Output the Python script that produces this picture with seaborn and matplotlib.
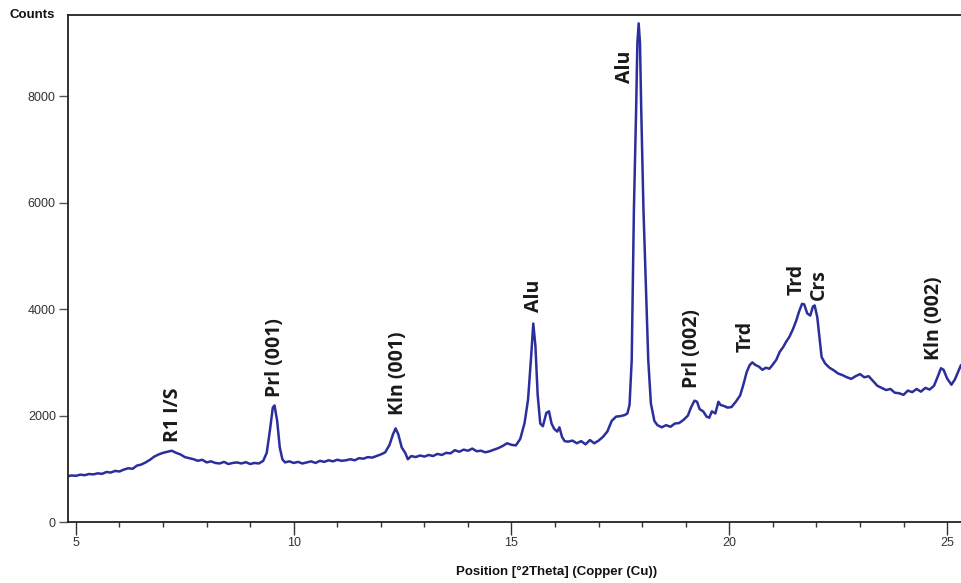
import numpy as np
import pandas as pd
import matplotlib.pyplot as plt
import seaborn as sns

# XRD pattern
two_theta = [
    4.81, 4.9, 5.0, 5.1, 5.2, 5.3, 5.4, 5.5, 5.6, 5.7, 5.8, 5.9, 6.0, 6.1, 6.2, 6.3,
    6.4, 6.5, 6.6, 6.7, 6.8, 6.9, 7.0, 7.1, 7.2, 7.3, 7.4, 7.5, 7.6, 7.7, 7.8, 7.9,
    8.0, 8.1, 8.2, 8.3, 8.4, 8.5, 8.6, 8.7, 8.8, 8.9, 9.0, 9.1, 9.2, 9.3, 9.38, 9.45,
    9.52, 9.56, 9.62, 9.68, 9.74, 9.8, 9.9, 10.0, 10.1, 10.2, 10.3, 10.4, 10.5, 10.6,
    10.7, 10.8, 10.9, 11.0, 11.1, 11.2, 11.3, 11.4, 11.5, 11.6, 11.7, 11.8, 11.9, 12.0,
    12.1, 12.2, 12.28, 12.34, 12.4, 12.48, 12.56, 12.62, 12.7, 12.8, 12.9, 13.0, 13.1,
    13.2, 13.3, 13.4, 13.5, 13.6, 13.7, 13.8, 13.9, 14.0, 14.1, 14.2, 14.3, 14.4, 14.5,
    14.6, 14.7, 14.8, 14.9, 15.0, 15.1, 15.2, 15.3, 15.38, 15.45, 15.5, 15.55, 15.6,
    15.66, 15.72, 15.8, 15.86, 15.92, 15.98, 16.05, 16.1, 16.16, 16.22, 16.3, 16.4,
    16.5, 16.6, 16.7, 16.8, 16.9, 17.0, 17.1, 17.2, 17.3, 17.4, 17.5, 17.6, 17.66,
    17.71, 17.76, 17.81, 17.86, 17.89, 17.92, 17.95, 17.98, 18.03, 18.14, 18.2, 18.28,
    18.35, 18.45, 18.55, 18.65, 18.75, 18.85, 18.95, 19.05, 19.12, 19.2, 19.26, 19.32,
    19.4, 19.48, 19.54, 19.6, 19.68, 19.75, 19.8, 19.88, 19.96, 20.05, 20.15, 20.25,
    20.33, 20.4, 20.47, 20.53, 20.6, 20.68, 20.76, 20.84, 20.92, 21.0, 21.08, 21.16,
    21.24, 21.3, 21.38, 21.46, 21.54, 21.6, 21.67, 21.72, 21.79, 21.86, 21.92, 21.96,
    22.02, 22.08, 22.12, 22.2, 22.3, 22.4, 22.5, 22.6, 22.7, 22.8, 22.9, 23.0, 23.1,
    23.2, 23.3, 23.4, 23.5, 23.6, 23.7, 23.8, 23.9, 24.0, 24.1, 24.2, 24.3, 24.4, 24.5,
    24.6, 24.7, 24.78, 24.86, 24.92, 25.0, 25.1, 25.18, 25.32,
]
counts = [
    860, 875, 868, 890, 880, 902, 895, 915, 905, 940, 930, 960, 950, 985, 1010, 1000,
    1060, 1080, 1120, 1170, 1230, 1270, 1300, 1320, 1340, 1300, 1270, 1220, 1200, 1180, 1150, 1170,
    1120, 1140, 1110, 1100, 1130, 1090, 1110, 1120, 1100, 1125, 1090, 1110, 1100, 1150, 1300, 1700,
    2150, 2190, 1900, 1400, 1180, 1120, 1140, 1110, 1130, 1100, 1120, 1140, 1110, 1150,
    1130, 1160, 1140, 1170, 1150, 1160, 1180, 1160, 1200, 1190, 1220, 1210, 1240, 1270,
    1310, 1450, 1650, 1760, 1650, 1400, 1300, 1180, 1240, 1220, 1250, 1230, 1260,
    1240, 1280, 1260, 1300, 1290, 1350, 1320, 1360, 1340, 1380, 1330, 1340, 1310, 1330,
    1360, 1390, 1430, 1480, 1450, 1440, 1560, 1860, 2300, 3100, 3730, 3300, 2400,
    1850, 1800, 2050, 2080, 1850, 1750, 1700, 1780, 1600, 1520, 1510, 1530,
    1480, 1520, 1460, 1540, 1480, 1530, 1600, 1700, 1900, 1980, 1990, 2010, 2040,
    2200, 3040, 5860, 7700, 9000, 9370, 9000, 7700, 5860, 3040, 2230, 1900,
    1820, 1780, 1820, 1790, 1850, 1860, 1920, 2000, 2150, 2280, 2260, 2120,
    2080, 1980, 1960, 2080, 2040, 2260, 2200, 2180, 2150, 2160, 2260, 2380,
    2600, 2820, 2950, 3000, 2950, 2920, 2860, 2900, 2880, 2960, 3050, 3200,
    3290, 3380, 3480, 3620, 3790, 3950, 4100, 4090, 3920, 3880, 4050, 4070,
    3850, 3400, 3100, 2980, 2900, 2850, 2790, 2760, 2720, 2690, 2740, 2780, 2720,
    2740, 2650, 2560, 2520, 2480, 2500, 2430, 2420, 2390, 2470, 2440, 2500, 2450, 2520,
    2490, 2560, 2720, 2890, 2860, 2700, 2580, 2680, 2950,
]

# phase labels: text, x position, bottom of the label (counts)
label_text = ["R1 I/S", "Prl (001)", "Kln (001)", "Alu", "Alu", "Prl (002)", "Trd", "Trd", "Crs", "Kln (002)"]
label_x = [7.22, 9.58, 12.39, 15.52, 17.60, 19.15, 20.37, 21.54, 22.06, 24.70]
label_y = [1500, 2345, 2007, 3940, 8245, 2514, 3190, 4260, 4170, 3040]

df = pd.DataFrame({"two_theta": two_theta, "counts": counts})

sns.set_style("ticks")
plt.rcParams["font.family"] = ["Liberation Sans", "DejaVu Sans"]

fig = plt.figure(figsize=(9.61, 5.83), dpi=100)
ax = fig.add_axes([0.0704, 0.1046, 0.9296, 0.8697])

sns.lineplot(data=df, x="two_theta", y="counts", ax=ax, color="#2b2f9c",
             linewidth=1.8, estimator=None, sort=False)

ax.set_xlim(4.81, 25.32)
ax.set_ylim(0, 9528)
ax.set_xticks([5, 10, 15, 20, 25])
ax.set_xticks(np.arange(5, 26, 1), minor=True)
ax.set_yticks([0, 2000, 4000, 6000, 8000])
ax.tick_params(axis="x", which="major", length=9, width=1, color="#333333",
               labelsize=9, labelcolor="#333333", pad=2)
ax.tick_params(axis="x", which="minor", length=3.5, width=1, color="#333333")
ax.tick_params(axis="y", which="major", length=6.5, width=1, color="#555555",
               labelsize=9, labelcolor="#333333", pad=2)
ax.set_xlabel("")
ax.set_ylabel("")
for side in ["left", "top", "bottom"]:
    ax.spines[side].set_linewidth(1.3)
    ax.spines[side].set_color("#222222")
ax.spines["right"].set_visible(False)

for txt, x, y in zip(label_text, label_x, label_y):
    ax.text(x, y, txt, rotation=90, ha="center", va="bottom",
            fontsize=14, fontweight="bold", color="#1a1a1a",
            family=["Open Sans", "DejaVu Sans"])

fig.text(10 / 961, 1 - 15 / 583, "Counts", ha="left", va="center",
         fontsize=9.5, fontweight="bold", color="#111111")
fig.text(557 / 961, 1 - 572 / 583, "Position [°2Theta] (Copper (Cu))", ha="center",
         va="center", fontsize=9.5, fontweight="bold", color="#111111")

fig.savefig("out.png", dpi=100)
